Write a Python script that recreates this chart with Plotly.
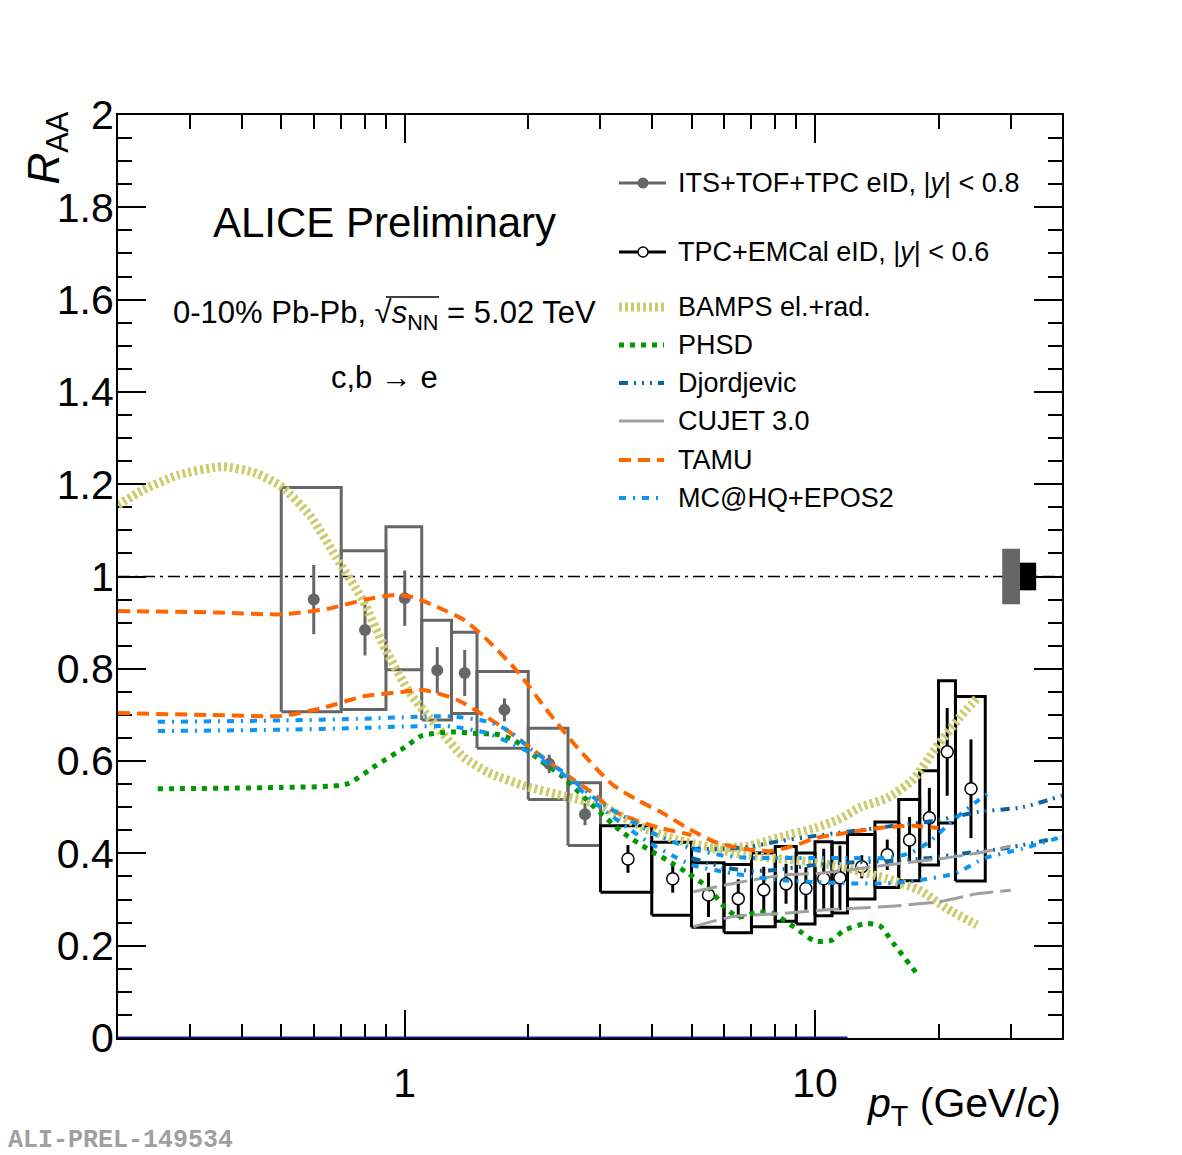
import numpy as np
import plotly.graph_objects as go

# ---------------- data ----------------
# ITS+TOF+TPC eID, |y|<0.8
its_lo = [0.5, 0.7, 0.9, 1.1, 1.3, 1.5, 2.0, 2.5]
its_hi = [0.7, 0.9, 1.1, 1.3, 1.5, 2.0, 2.5, 3.0]
its_pt = [0.6, 0.8, 1.0, 1.2, 1.4, 1.75, 2.25, 2.75]
its_raa = [0.95, 0.884, 0.953, 0.797, 0.791, 0.711, 0.594, 0.485]
its_stat = [0.075, 0.055, 0.06, 0.05, 0.05, 0.025, 0.02, 0.024]
its_sys = [0.243, 0.172, 0.155, 0.108, 0.088, 0.083, 0.077, 0.068]

# TPC+EMCal eID, |y|<0.6
emc_lo = [3, 4, 5, 6, 7, 8, 9, 10, 11, 12, 14, 16, 18, 20, 22]
emc_hi = [4, 5, 6, 7, 8, 9, 10, 11, 12, 14, 16, 18, 20, 22, 26]
emc_pt = [3.5, 4.5, 5.5, 6.5, 7.5, 8.5, 9.5, 10.5, 11.5, 13, 15, 17, 19, 21, 24]
emc_raa = [0.388, 0.345, 0.31, 0.302, 0.321, 0.334, 0.324, 0.345, 0.347, 0.371, 0.397, 0.429, 0.477, 0.62, 0.54]
emc_stat = [0.03, 0.03, 0.048, 0.042, 0.05, 0.043, 0.046, 0.065, 0.07, 0.025, 0.033, 0.05, 0.065, 0.095, 0.107]
emc_sys = [0.072, 0.079, 0.07, 0.074, 0.08, 0.081, 0.077, 0.08, 0.076, 0.07, 0.071, 0.088, 0.102, 0.154, 0.2]

# normalisation uncertainties
norm_its = 0.06
norm_emc = 0.03
norm_its_pt = [28.6, 31.6]
norm_emc_pt = [31.6, 34.6]

# models
bamps_pt = [0.2, 0.23, 0.28, 0.36, 0.43, 0.5, 0.59, 0.68, 0.79, 0.9, 1.03, 1.2, 1.39, 1.6, 1.98, 2.48, 3.0, 3.22, 3.9, 4.7, 5.65, 6.8, 8.2, 10, 11.5, 12.9, 15, 17.3, 19.8, 22.6, 24.8]
bamps_raa = [1.155, 1.187, 1.22, 1.238, 1.225, 1.195, 1.13, 1.042, 0.949, 0.84, 0.747, 0.674, 0.609, 0.575, 0.545, 0.523, 0.505, 0.49, 0.452, 0.427, 0.413, 0.415, 0.435, 0.455, 0.475, 0.5, 0.52, 0.559, 0.631, 0.696, 0.736]
bamps2_pt = [5.65, 7.0, 9.0, 11.0, 13.0, 15.0, 18.0, 21.0, 24.8]
bamps2_raa = [0.41, 0.395, 0.385, 0.375, 0.36, 0.345, 0.32, 0.28, 0.245]

phsd_pt = [0.25, 0.5, 0.72, 0.85, 1.0, 1.1, 1.3, 1.5, 1.7, 1.85, 2.15, 2.4, 2.9, 3.4, 3.9, 4.35, 4.9, 5.5, 6.0, 6.5, 7.2, 7.9, 8.9, 10, 11, 11.7, 13.3, 14.4, 15.5, 17.8]
phsd_raa = [0.54, 0.543, 0.55, 0.59, 0.63, 0.655, 0.663, 0.66, 0.657, 0.645, 0.6, 0.57, 0.5, 0.445, 0.41, 0.386, 0.357, 0.325, 0.285, 0.262, 0.272, 0.27, 0.24, 0.21, 0.212, 0.232, 0.248, 0.243, 0.206, 0.137]

djor_up_pt = [5, 6, 7, 8, 10, 12, 15, 20, 25, 32, 40]
djor_up_raa = [0.41, 0.41, 0.415, 0.425, 0.438, 0.447, 0.458, 0.472, 0.49, 0.5, 0.525]
djor_lo_pt = [5, 6, 7, 8, 10, 12, 15, 19, 23, 29, 40]
djor_lo_raa = [0.39, 0.37, 0.362, 0.364, 0.375, 0.38, 0.383, 0.39, 0.4, 0.411, 0.435]

cujet_up_pt = [5.05, 6.4, 8.4, 10.3, 15, 20, 25, 30]
cujet_up_raa = [0.317, 0.336, 0.353, 0.357, 0.375, 0.388, 0.401, 0.416]
cujet_lo_pt = [5.05, 6.3, 8.4, 10.3, 15, 20, 25, 30]
cujet_lo_raa = [0.241, 0.263, 0.27, 0.277, 0.285, 0.295, 0.313, 0.32]

tamu_up_pt = [0.2, 0.35, 0.5, 0.65, 0.8, 0.95, 1.05, 1.2, 1.4, 1.6, 1.9, 2.2, 2.6, 3.2, 3.7, 4.2, 5, 5.7, 6.7, 7.8, 9, 10, 12, 15, 17.3, 20]
tamu_up_raa = [0.925, 0.922, 0.918, 0.93, 0.95, 0.96, 0.955, 0.934, 0.905, 0.86, 0.79, 0.715, 0.635, 0.55, 0.515, 0.49, 0.45, 0.425, 0.41, 0.405, 0.418, 0.433, 0.445, 0.457, 0.46, 0.455]
tamu_lo_pt = [0.2, 0.335, 0.5, 0.63, 0.79, 0.99, 1.11, 1.34, 1.58, 1.8, 2.06, 2.39, 2.88, 3.2, 3.7, 4.2, 5.0]
tamu_lo_raa = [0.704, 0.70, 0.698, 0.715, 0.74, 0.75, 0.754, 0.733, 0.696, 0.663, 0.624, 0.58, 0.53, 0.494, 0.47, 0.455, 0.44]

mchq_up_pt = [0.25, 0.5, 0.8, 1.0, 1.3, 1.6, 1.8, 2.0, 2.4, 3.0, 3.5, 4.0, 5, 6, 7, 8, 10, 12, 15, 17, 19, 21, 23, 25, 26.5]
mchq_up_raa = [0.685, 0.688, 0.692, 0.695, 0.697, 0.685, 0.665, 0.63, 0.58, 0.51, 0.475, 0.445, 0.41, 0.395, 0.39, 0.39, 0.39, 0.39, 0.39, 0.4, 0.425, 0.46, 0.49, 0.515, 0.53]
mchq_lo_pt = [0.25, 0.5, 0.8, 1.0, 1.3, 1.6, 1.8, 2.0, 2.4, 3.0, 3.5, 4.0, 4.5, 5, 6, 7, 8, 10, 12, 15, 18, 22, 26, 32, 40]
mchq_lo_raa = [0.665, 0.668, 0.672, 0.675, 0.675, 0.66, 0.64, 0.62, 0.575, 0.5, 0.455, 0.42, 0.395, 0.375, 0.36, 0.35, 0.343, 0.338, 0.335, 0.335, 0.342, 0.357, 0.39, 0.41, 0.436]

zero_line_pt = [0.2, 12.0]
unity_pt = [0.2, 40.0]

x_tick_vals = [1, 10]
x_tick_text = ["1", "10"]
x_minor_vals = [0.2, 0.3, 0.4, 0.5, 0.6, 0.7, 0.8, 0.9, 2, 3, 4, 5, 6, 7, 8, 9, 20, 30, 40]
y_tick_vals = [0, 0.2, 0.4, 0.6, 0.8, 1.0, 1.2, 1.4, 1.6, 1.8, 2.0]
y_tick_text = ["0", "0.2", "0.4", "0.6", "0.8", "1", "1.2", "1.4", "1.6", "1.8", "2"]

# ---------------- style ----------------
FONT = "Liberation Sans, Arial, Helvetica, sans-serif"
C_ITS = "#666666"
C_EMC = "#000000"
C_BAMPS = "#cccc6e"
C_PHSD = "#009900"
C_DJOR = "#0a64a0"
C_CUJET = "#a0a0a0"
C_TAMU = "#ff6600"
C_MCHQ = "#0a96f5"

D_BAMPS = "3px,3px"
D_PHSD = "5px,6px"
D_DJOR = "9px,6px,2px,6px,2px,6px,2px,6px"
D_CUJET = "24px,7px"
D_TAMU = "12px,7px"
D_MCHQ = "7px,7px,2px,7px"

L, R, T, B = 118, 1062, 115, 1038
W, H = 1182, 1155


def fx(px):
    return (px - L) / (R - L)


def fy(py):
    return (B - py) / (B - T)


def boxes(lo, hi, val, sys):
    xs, ys = [], []
    for a, b, v, s in zip(lo, hi, val, sys):
        xs += [a, b, b, a, a, None]
        ys += [v - s, v - s, v + s, v + s, v - s, None]
    return xs, ys


fig = go.Figure()

# reference lines
fig.add_trace(go.Scatter(x=unity_pt, y=[1, 1], mode="lines",
                         line=dict(color="black", width=1.5, dash="12px,5px,3px,5px"),
                         hoverinfo="skip", showlegend=False))
fig.add_trace(go.Scatter(x=zero_line_pt, y=[0, 0], mode="lines",
                         line=dict(color="#1a1a9c", width=3),
                         hoverinfo="skip", showlegend=False))

# normalisation boxes
fig.add_trace(go.Scatter(x=[norm_its_pt[0], norm_its_pt[1], norm_its_pt[1], norm_its_pt[0], norm_its_pt[0]],
                         y=[1 - norm_its, 1 - norm_its, 1 + norm_its, 1 + norm_its, 1 - norm_its],
                         fill="toself", fillcolor=C_ITS, mode="lines", line=dict(width=0, color=C_ITS),
                         hoverinfo="skip", showlegend=False))
fig.add_trace(go.Scatter(x=[norm_emc_pt[0], norm_emc_pt[1], norm_emc_pt[1], norm_emc_pt[0], norm_emc_pt[0]],
                         y=[1 - norm_emc, 1 - norm_emc, 1 + norm_emc, 1 + norm_emc, 1 - norm_emc],
                         fill="toself", fillcolor=C_EMC, mode="lines", line=dict(width=0, color=C_EMC),
                         hoverinfo="skip", showlegend=False))

# systematic boxes
bx, by = boxes(its_lo, its_hi, its_raa, its_sys)
fig.add_trace(go.Scatter(x=bx, y=by, mode="lines", line=dict(color=C_ITS, width=3),
                         hoverinfo="skip", showlegend=False))
bx, by = boxes(emc_lo, emc_hi, emc_raa, emc_sys)
fig.add_trace(go.Scatter(x=bx, y=by, mode="lines", line=dict(color=C_EMC, width=3),
                         hoverinfo="skip", showlegend=False))

# data points
fig.add_trace(go.Scatter(x=its_pt, y=its_raa, mode="markers",
                         marker=dict(color=C_ITS, size=12, symbol="circle"),
                         error_y=dict(type="data", array=its_stat, color=C_ITS, thickness=3, width=0),
                         showlegend=False))
fig.add_trace(go.Scatter(x=emc_pt, y=emc_raa, mode="markers",
                         marker=dict(color="white", size=12, symbol="circle", line=dict(color="black", width=1.5)),
                         error_y=dict(type="data", array=emc_stat, color=C_EMC, thickness=3, width=0),
                         showlegend=False))


# models (drawn over data, as in the original)
def model(xs, ys, color, width, dash):
    fig.add_trace(go.Scatter(x=xs, y=ys, mode="lines",
                             line=dict(color=color, width=width, dash=dash, shape="spline", smoothing=0.6),
                             hoverinfo="skip", showlegend=False))


model(bamps_pt, bamps_raa, C_BAMPS, 9, D_BAMPS)
model(bamps2_pt, bamps2_raa, C_BAMPS, 9, D_BAMPS)
model(phsd_pt, phsd_raa, C_PHSD, 5, D_PHSD)
model(djor_up_pt, djor_up_raa, C_DJOR, 4, D_DJOR)
model(djor_lo_pt, djor_lo_raa, C_DJOR, 4, D_DJOR)
model(cujet_up_pt, cujet_up_raa, C_CUJET, 3, D_CUJET)
model(cujet_lo_pt, cujet_lo_raa, C_CUJET, 3, D_CUJET)
model(tamu_up_pt, tamu_up_raa, C_TAMU, 4, D_TAMU)
model(tamu_lo_pt, tamu_lo_raa, C_TAMU, 4, D_TAMU)
model(mchq_up_pt, mchq_up_raa, C_MCHQ, 4, D_MCHQ)
model(mchq_lo_pt, mchq_lo_raa, C_MCHQ, 4, D_MCHQ)

# ---------------- manual legend (overlay axes in plot-area fractions) ----------------
leg_entries = [
    ("ITS+TOF+TPC eID, |<i>y</i>| &lt; 0.8", 183, dict(color=C_ITS, width=3, dash="solid"), "its"),
    ("TPC+EMCal eID, |<i>y</i>| &lt; 0.6", 252, dict(color=C_EMC, width=3, dash="solid"), "emc"),
    ("BAMPS el.+rad.", 307, dict(color=C_BAMPS, width=9, dash=D_BAMPS), None),
    ("PHSD", 345, dict(color=C_PHSD, width=5, dash=D_PHSD), None),
    ("Djordjevic", 383, dict(color=C_DJOR, width=4, dash=D_DJOR), None),
    ("CUJET 3.0", 421, dict(color=C_CUJET, width=3, dash="solid"), None),
    ("TAMU", 460, dict(color=C_TAMU, width=4, dash=D_TAMU), None),
    ("MC@HQ+EPOS2", 498, dict(color=C_MCHQ, width=4, dash=D_MCHQ), None),
]
annotations = []
for text, py, ln, mk in leg_entries:
    x1 = 666 if mk else 664
    fig.add_trace(go.Scatter(x=[fx(619), fx(x1)], y=[fy(py), fy(py)], mode="lines", line=ln,
                             xaxis="x2", yaxis="y2", hoverinfo="skip", showlegend=False))
    if mk == "its":
        fig.add_trace(go.Scatter(x=[fx(643)], y=[fy(py)], mode="markers",
                                 marker=dict(color=C_ITS, size=11), xaxis="x2", yaxis="y2",
                                 hoverinfo="skip", showlegend=False))
    if mk == "emc":
        fig.add_trace(go.Scatter(x=[fx(643)], y=[fy(py)], mode="markers",
                                 marker=dict(color="white", size=10, line=dict(color="black", width=1.5)),
                                 xaxis="x2", yaxis="y2", hoverinfo="skip", showlegend=False))
    annotations.append(dict(text=text, x=fx(676), y=fy(py), xref="paper", yref="paper",
                            xanchor="left", yanchor="middle", showarrow=False,
                            font=dict(family=FONT, size=27, color="black")))

# ---------------- texts ----------------
annotations += [
    dict(text="ALICE Preliminary", x=fx(384), y=fy(222), xref="paper", yref="paper",
         xanchor="center", yanchor="middle", showarrow=False, font=dict(family=FONT, size=42, color="black")),
    dict(text="0-10% Pb-Pb, √<i>s</i><sub>NN</sub> = 5.02 TeV", x=fx(384), y=fy(315), xref="paper", yref="paper",
         xanchor="center", yanchor="middle", showarrow=False, font=dict(family=FONT, size=31, color="black")),
    dict(text="c,b → e", x=fx(384), y=fy(377), xref="paper", yref="paper",
         xanchor="center", yanchor="middle", showarrow=False, font=dict(family=FONT, size=31, color="black")),
    dict(text="<i>R</i><sub>AA</sub>", x=fx(46), y=fy(110), xref="paper", yref="paper", textangle=-90,
         xanchor="center", yanchor="top", showarrow=False, font=dict(family=FONT, size=44, color="black")),
    dict(text="<i>p</i><sub>T</sub> (GeV/<i>c</i>)", x=fx(1063), y=fy(1106), xref="paper", yref="paper",
         xanchor="right", yanchor="middle", showarrow=False, font=dict(family=FONT, size=41, color="black")),
    dict(text="<b>ALI-PREL-149534</b>", x=fx(6), y=fy(1140), xref="paper", yref="paper",
         xanchor="left", yanchor="middle", showarrow=False,
         font=dict(family="Liberation Mono, Courier New, monospace", size=25, color="#a0a0a0")),
]

fig.update_layout(
    width=W, height=H,
    margin=dict(l=L, r=W - R, t=T, b=H - B),
    paper_bgcolor="white", plot_bgcolor="white",
    showlegend=False,
    font=dict(family=FONT, color="black"),
    annotations=annotations,
    shapes=[dict(type="line", xref="paper", yref="paper", x0=fx(386), x1=fx(439), y0=fy(297), y1=fy(297),
                 line=dict(color="black", width=1.5))],
    xaxis=dict(type="log", range=[np.log10(0.2), np.log10(40)],
               tickmode="array", tickvals=x_tick_vals, ticktext=x_tick_text,
               ticks="inside", ticklen=28, tickwidth=1.5, tickcolor="black",
               minor=dict(ticks="inside", tickmode="array", tickvals=x_minor_vals, ticklen=14,
                          tickwidth=1.5, tickcolor="black", showgrid=False),
               showline=True, linecolor="black", linewidth=2, mirror="ticks",
               showgrid=False, zeroline=False, layer="below traces",
               tickfont=dict(family=FONT, size=41, color="black"), ticklabelstandoff=8),
    yaxis=dict(range=[0, 2], tickmode="array", tickvals=y_tick_vals, ticktext=y_tick_text,
               ticks="inside", ticklen=28, tickwidth=1.5, tickcolor="black",
               minor=dict(ticks="inside", dtick=0.05, tick0=0, ticklen=14, tickwidth=1.5,
                          tickcolor="black", showgrid=False),
               showline=True, linecolor="black", linewidth=2, mirror="ticks",
               showgrid=False, zeroline=False, layer="below traces",
               tickfont=dict(family=FONT, size=41, color="black"), ticklabelstandoff=-6),
    xaxis2=dict(overlaying="x", range=[0, 1], visible=False, anchor="y2"),
    yaxis2=dict(overlaying="y", range=[0, 1], visible=False, anchor="x2"),
)

fig.write_html("out.html")
